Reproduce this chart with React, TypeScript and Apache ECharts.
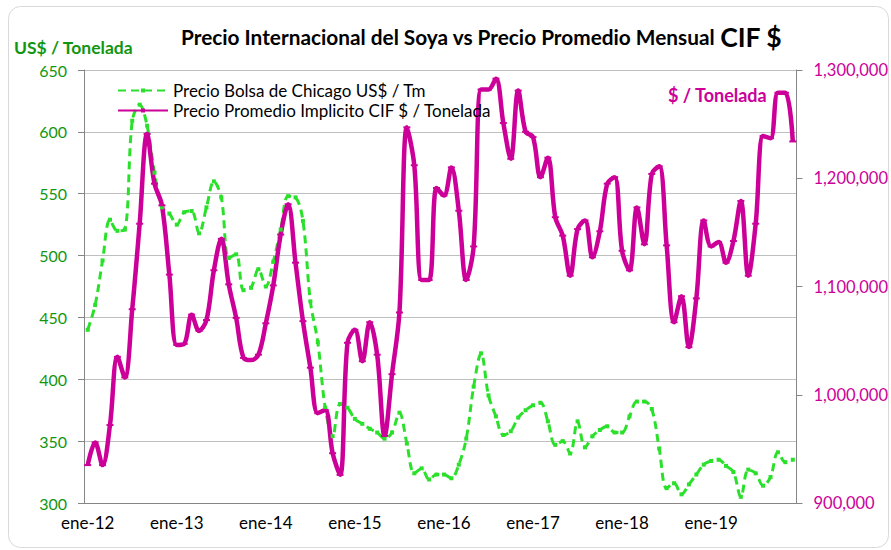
import React, { useEffect, useRef } from 'react';
import * as echarts from 'echarts';

const monthNames = ['ene', 'feb', 'mar', 'abr', 'may', 'jun', 'jul', 'ago', 'sep', 'oct', 'nov', 'dic'];
const years = ['12', '13', '14', '15', '16', '17', '18', '19'];
const categories = years.flatMap((y) => monthNames.map((m) => `${m}-${y}`));

const chicago = [
  440, 460, 496, 529, 520, 521, 609, 622, 605, 567, 539, 534,
  525, 535, 536, 518, 539, 560, 547, 498, 501, 472, 474, 489,
  475, 495, 521, 548, 547, 528, 463, 430, 377, 354, 380, 377,
  368, 364, 360, 357, 352, 357, 373, 348, 324, 328, 319, 323,
  323, 320, 331, 352, 394, 421, 387, 370, 355, 358, 369, 375,
  379, 381, 366, 347, 350, 340, 366, 345, 354, 359, 362, 357,
  357, 370, 382, 382, 376, 344, 312, 316, 307, 315, 323, 331,
  334, 335, 330, 325, 305, 327, 324, 314, 321, 341, 333, 335,
];

const cif = [
  935000, 956000, 935000, 972000, 1035000, 1016000, 1079000, 1158000, 1241000, 1195000, 1175000, 1111000,
  1046000, 1047000, 1074000, 1059000, 1069000, 1115000, 1144000, 1102000, 1071000, 1034000, 1032000, 1037000,
  1066000, 1101000, 1148000, 1176000, 1122000, 1068000, 1025000, 983000, 986000, 946000, 926000, 1048000,
  1060000, 1031000, 1067000, 1037000, 962000, 1019000, 1076000, 1247000, 1212000, 1106000, 1106000, 1191000,
  1184000, 1210000, 1170000, 1106000, 1137000, 1282000, 1282000, 1292000, 1251000, 1218000, 1281000, 1243000,
  1238000, 1201000, 1219000, 1164000, 1147000, 1110000, 1153000, 1161000, 1127000, 1151000, 1195000, 1201000,
  1133000, 1115000, 1173000, 1139000, 1204000, 1211000, 1138000, 1067000, 1091000, 1044000, 1089000, 1161000,
  1137000, 1141000, 1122000, 1142000, 1179000, 1110000, 1158000, 1239000, 1237000, 1279000, 1279000, 1234000,
];

const leftTicks = { min: 300, max: 650, interval: 50 };
const rightTicks = { min: 900000, max: 1300000, interval: 100000 };

const GREEN = '#2BE02B';
const PURPLE = '#CC0099';
const AXIS_GREEN = '#129612';
const FONT = 'Lato';

export default function App() {
  const ref = useRef<HTMLDivElement>(null);
  useEffect(() => {
    const chart = echarts.init(ref.current!, null, { renderer: 'svg' });
    chart.setOption({
      animation: false,
      textStyle: { fontFamily: FONT },
      title: {
        text: '{a|Precio Internacional del Soya vs Precio Promedio Mensual }{b|CIF $}',
        left: 176,
        top: 18,
        textStyle: {
          rich: {
            a: { fontSize: 20.8, fontWeight: 'bold', color: '#000', fontFamily: FONT },
            b: { fontSize: 26.5, fontWeight: 'bold', color: '#000', fontFamily: FONT },
          },
        },
      },
      graphic: [
        {
          type: 'rect',
          shape: { x: 8.5, y: 6.5, width: 880, height: 541, r: 12 },
          style: { fill: 'none', stroke: '#D9D9D9', lineWidth: 1 },
          silent: true,
          z: -10,
        },
        {
          type: 'text',
          left: 14,
          top: 38,
          style: { text: 'US$ / Tonelada', fill: AXIS_GREEN, font: `bold 17.5px ${FONT}` },
        },
        {
          type: 'text',
          left: 668,
          top: 86,
          style: { text: '$ / Tonelada', fill: PURPLE, font: `bold 18px ${FONT}` },
        },
      ],
      legend: {
        orient: 'vertical',
        left: 112,
        top: 77,
        itemWidth: 50,
        itemHeight: 5,
        itemGap: 3,
        textStyle: { fontSize: 17, color: '#000', fontFamily: FONT },
        data: ['Precio Bolsa de Chicago US$ / Tm', 'Precio Promedio Implicito CIF $ / Tonelada'],
      },
      grid: { left: 84, right: 88, top: 70, bottom: 47 },
      xAxis: {
        type: 'category',
        data: categories,
        boundaryGap: true,
        axisLine: { lineStyle: { color: '#868686', width: 1 } },
        axisTick: { interval: 11, length: 5, lineStyle: { color: '#868686' } },
        axisLabel: { interval: 11, color: '#000', fontSize: 17, margin: 11, fontFamily: FONT },
        splitLine: { show: false },
      },
      yAxis: [
        {
          type: 'value',
          position: 'left',
          ...leftTicks,
          axisLine: { show: true, lineStyle: { color: '#868686' } },
          axisTick: { show: true, length: 6, lineStyle: { color: '#868686' } },
          axisLabel: { color: AXIS_GREEN, fontSize: 16, margin: 17, fontFamily: FONT },
          splitLine: { show: true, lineStyle: { color: '#BFBFBF', width: 1 } },
        },
        {
          type: 'value',
          position: 'right',
          ...rightTicks,
          axisLine: { show: true, lineStyle: { color: '#868686' } },
          axisTick: { show: true, length: 6, lineStyle: { color: '#868686' } },
          axisLabel: {
            color: PURPLE,
            fontSize: 16.5,
            margin: 17,
            fontFamily: FONT,
            formatter: (v: number) => v.toLocaleString('en-US'),
          },
          splitLine: { show: false },
        },
      ],
      series: [
        {
          name: 'Precio Bolsa de Chicago US$ / Tm',
          type: 'line',
          yAxisIndex: 0,
          data: chicago,
          smooth: 0.35,
          symbol: 'rect',
          symbolSize: 4,
          showAllSymbol: true,
          lineStyle: { color: GREEN, width: 3, type: [8, 5] },
          itemStyle: { color: GREEN },
        },
        {
          name: 'Precio Promedio Implicito CIF $ / Tonelada',
          type: 'line',
          yAxisIndex: 1,
          data: cif,
          smooth: 0.35,
          symbol: 'rect',
          symbolSize: [7, 2],
          showAllSymbol: true,
          lineStyle: { color: PURPLE, width: 4.5 },
          itemStyle: { color: PURPLE },
        },
      ],
    });
    return () => chart.dispose();
  }, []);
  return (
    <div
      ref={ref}
      style={{ position: 'fixed', left: 0, top: 0, width: 891, height: 550, background: '#fff' }}
    />
  );
}
